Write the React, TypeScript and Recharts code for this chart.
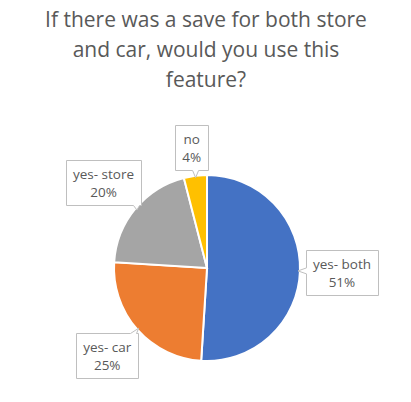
import React from "react";
import { PieChart, Pie, Cell } from "recharts";

const TITLE_LINES = ["If there was a save for both store", "and car, would you use this", "feature?"];
const CATEGORIES = ["yes- both", "yes- car", "yes- store", "no"];
const VALUES = [51, 25, 20, 4];
const COLORS = ["#4472C4", "#ED7D31", "#A5A5A5", "#FFC000"];

const data = CATEGORIES.map((name, i) => ({ name, value: VALUES[i] }));

const LABEL_FONT = '13.5px "Open Sans"';
const RAD = Math.PI / 180;

let canvasCtx: CanvasRenderingContext2D | null = null;
function textWidth(t: string): number {
  if (typeof document !== "undefined") {
    if (!canvasCtx) canvasCtx = document.createElement("canvas").getContext("2d");
    if (canvasCtx) {
      canvasCtx.font = LABEL_FONT;
      return canvasCtx.measureText(t).width;
    }
  }
  return t.length * 7;
}

function calloutPath(x0: number, y0: number, w: number, h: number, ax: number, ay: number): string {
  const x1 = x0 + w;
  const y1 = y0 + h;
  const ex = { left: x0 - ax, right: ax - x1, top: y0 - ay, bottom: ay - y1 };
  let side = "left";
  let best = -Infinity;
  (Object.keys(ex) as Array<keyof typeof ex>).forEach((k) => {
    if (ex[k] > best) {
      best = ex[k];
      side = k;
    }
  });
  const half = 3;
  const clamp = (v: number, a: number, b: number) => Math.max(a, Math.min(b, v));
  const pts: Array<[number, number]> = [];
  pts.push([x0, y0]);
  if (side === "top") {
    const c = clamp(ax, x0 + half + 2, x1 - half - 2);
    pts.push([c - half, y0], [ax, ay], [c + half, y0]);
  }
  pts.push([x1, y0]);
  if (side === "right") {
    const c = clamp(ay, y0 + half + 2, y1 - half - 2);
    pts.push([x1, c - half], [ax, ay], [x1, c + half]);
  }
  pts.push([x1, y1]);
  if (side === "bottom") {
    const c = clamp(ax, x0 + half + 2, x1 - half - 2);
    pts.push([c + half, y1], [ax, ay], [c - half, y1]);
  }
  pts.push([x0, y1]);
  if (side === "left") {
    const c = clamp(ay, y0 + half + 2, y1 - half - 2);
    pts.push([x0, c + half], [ax, ay], [x0, c - half]);
  }
  return "M" + pts.map((p) => `${p[0].toFixed(1)},${p[1].toFixed(1)}`).join("L") + "Z";
}

function renderLabel(props: any) {
  const { cx, cy, midAngle, outerRadius, index, percent, name } = props;
  const line1 = String(name);
  const line2 = `${Math.round(percent * 100)}%`;
  const w = Math.round(Math.max(textWidth(line1), textWidth(line2)) + 14);
  const h = 45;
  const cos = Math.cos(-midAngle * RAD);
  const sin = Math.sin(-midAngle * RAD);
  const edge = Math.min(
    Math.abs(cos) > 1e-6 ? w / 2 / Math.abs(cos) : Infinity,
    Math.abs(sin) > 1e-6 ? h / 2 / Math.abs(sin) : Infinity
  );
  const gap = 6;
  const r = outerRadius + gap + edge;
  const bx = cx + r * cos;
  const by = cy + r * sin;
  const ax = cx + (outerRadius - 2) * cos;
  const ay = cy + (outerRadius - 2) * sin;
  const x0 = Math.round(bx - w / 2) + 0.5;
  const y0 = Math.round(by - h / 2) + 0.5;
  return (
    <g key={`lbl-${index}`}>
      <path d={calloutPath(x0, y0, w, h, ax, ay)} fill="#FFFFFF" stroke="#BFBFBF" strokeWidth={1} />
      <text x={bx} y={by - 8.5} textAnchor="middle" dominantBaseline="central" fill="#595959" style={{ font: LABEL_FONT }}>
        {line1}
      </text>
      <text x={bx} y={by + 9.5} textAnchor="middle" dominantBaseline="central" fill="#595959" style={{ font: LABEL_FONT }}>
        {line2}
      </text>
    </g>
  );
}

export default function App() {
  return (
    <div style={{ position: "absolute", left: 0, top: 0, width: 411, height: 402, background: "#FFFFFF", fontFamily: '"Open Sans", sans-serif' }}>
      <div
        style={{
          position: "absolute",
          left: 0,
          top: 4,
          width: 411,
          textAlign: "center",
          color: "#595959",
          fontSize: 21,
          lineHeight: "30px",
          fontFamily: '"Open Sans", sans-serif',
        }}
      >
        {TITLE_LINES.map((l, i) => (
          <div key={i} style={{ marginLeft: 1, whiteSpace: "nowrap" }}>{l}</div>
        ))}
      </div>
      <PieChart width={411} height={402} margin={{ top: 0, right: 0, bottom: 0, left: 0 }}>
        <Pie
          data={data}
          dataKey="value"
          nameKey="name"
          cx={207}
          cy={268}
          outerRadius={93}
          startAngle={90}
          endAngle={-270}
          stroke="#FFFFFF"
          strokeWidth={2}
          isAnimationActive={false}
          labelLine={false}
          label={renderLabel}
        >
          {data.map((d, i) => (
            <Cell key={d.name} fill={COLORS[i]} />
          ))}
        </Pie>
      </PieChart>
    </div>
  );
}
